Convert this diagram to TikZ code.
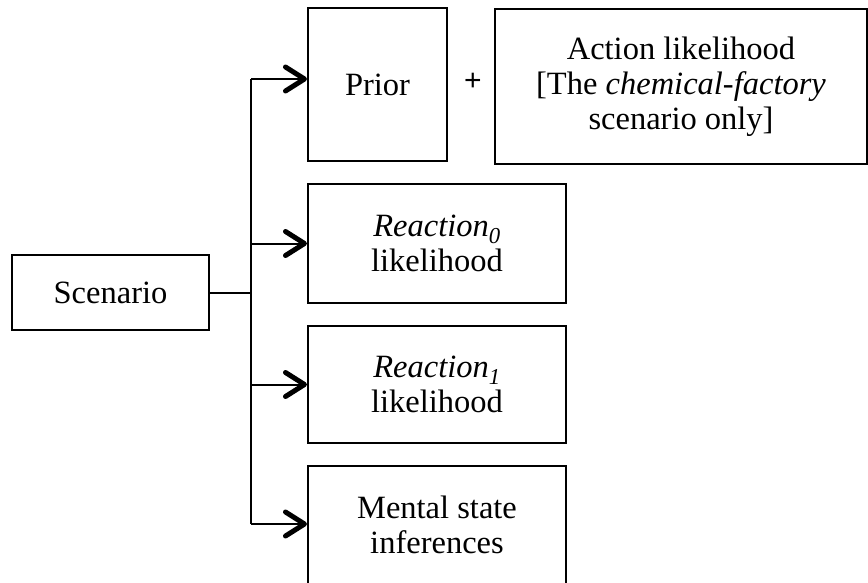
\documentclass[tikz,border=0pt]{standalone}
\usepackage{fontspec}
\setmainfont{Liberation Serif}
\newfontfamily\plusfont{Liberation Sans}
\usetikzlibrary{arrows.meta}
\tikzset{
  box/.style={draw, line width=2pt, inner sep=0pt, align=center,
    font=\fontsize{32.5}{35}\selectfont},
  conn/.style={line width=2pt},
  arr/.style={line width=2pt, -{Straight Barb[length=19pt,width=24pt,line width=5pt,round]}},
}
\begin{document}
\begin{tikzpicture}[x=1pt,y=-1pt]
\useasboundingbox (0,0) rectangle (868,583);
\clip (0,0) rectangle (868,583);
\node[box, minimum width=197pt, minimum height=75pt] (scen) at (110.5,292.5) {Scenario};
\node[box, minimum width=139pt, minimum height=153pt] (prior) at (377.5,84.5) {Prior};
\node[box, minimum width=372pt, minimum height=155pt] (action) at (681,86.5)
  {Action likelihood\\{[}The \textit{chemical-factory}\\scenario only]};
\node[font=\plusfont\fontsize{30}{34}\selectfont, inner sep=0pt] (plus) at (473,82) {+};
\node[box, minimum width=258pt, minimum height=119pt] (r0) at (437,243.5)
  {\textit{Reaction\textsubscript{0}}\\likelihood};
\node[box, minimum width=258pt, minimum height=117pt] (r1) at (437,384.5)
  {\textit{Reaction\textsubscript{1}}\\likelihood};
\node[box, minimum width=258pt, minimum height=118pt] (mental) at (437,525)
  {Mental state\\inferences};
\coordinate (top) at (251,79);
\coordinate (bot) at (251,524);
\draw[conn] (top) -- (bot);
\draw[conn] (scen.east) -- (scen.east -| top);
\draw[arr] (top) -- (top -| prior.west);
\draw[arr] (r0.west -| top) -- (r0.west);
\draw[arr] (r1.west -| top) -- (r1.west);
\draw[arr] (bot) -- (bot -| mental.west);
\end{tikzpicture}
\end{document}
